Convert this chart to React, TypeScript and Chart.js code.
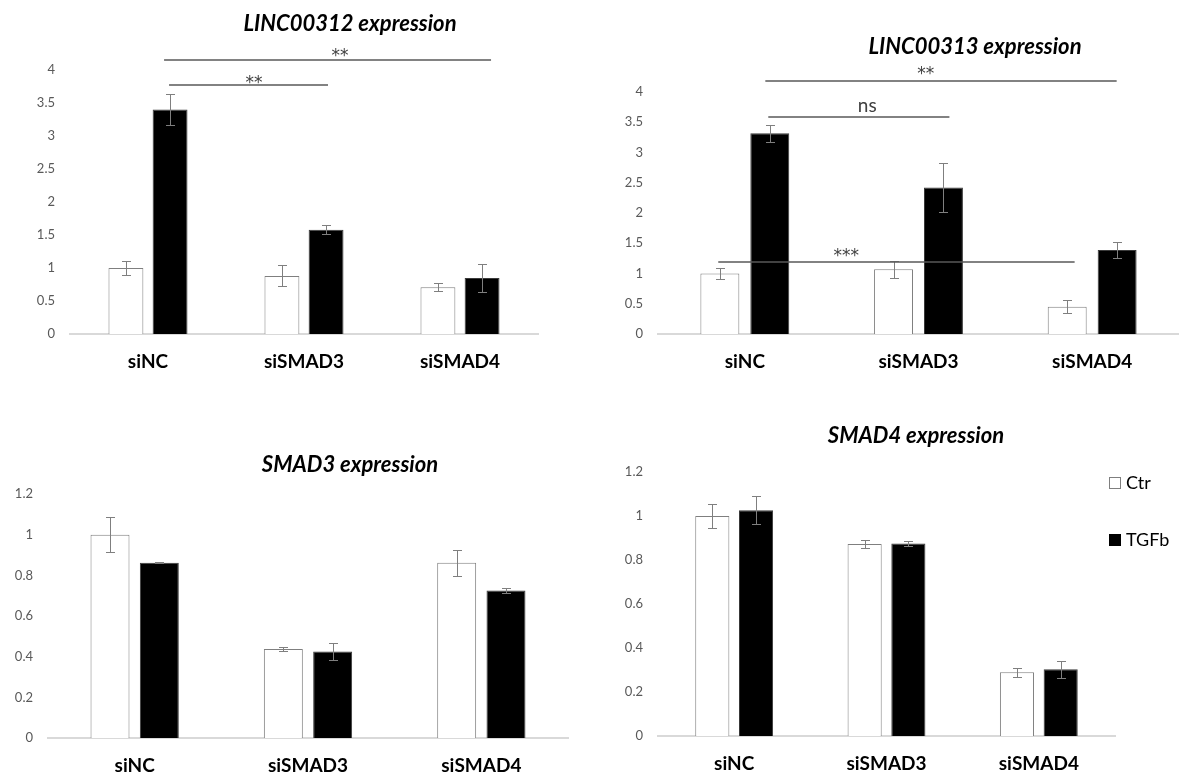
import React, { useEffect, useRef } from 'react';
import { Chart, registerables } from 'chart.js';

Chart.register(...registerables);

// ---------- data ----------
const categories = ['siNC', 'siSMAD3', 'siSMAD4'];
const seriesNames = ['Ctr', 'TGFb'];

const lincTicks = [0, 0.5, 1, 1.5, 2, 2.5, 3, 3.5, 4];
const smadTicks = [0, 0.2, 0.4, 0.6, 0.8, 1, 1.2];

const linc312Ctr = [1.0, 0.88, 0.71];
const linc312CtrErr = [0.1, 0.16, 0.06];
const linc312Tgf = [3.4, 1.58, 0.85];
const linc312TgfErr = [0.23, 0.07, 0.21];

const linc313Ctr = [1.0, 1.07, 0.45];
const linc313CtrErr = [0.09, 0.14, 0.11];
const linc313Tgf = [3.32, 2.42, 1.39];
const linc313TgfErr = [0.14, 0.4, 0.13];

const smad3Ctr = [1.0, 0.438, 0.862];
const smad3CtrErr = [0.085, 0.01, 0.064];
const smad3Tgf = [0.862, 0.426, 0.725];
const smad3TgfErr = [0.003, 0.043, 0.012];

const smad4Ctr = [1.0, 0.873, 0.29];
const smad4CtrErr = [0.056, 0.02, 0.02];
const smad4Tgf = [1.026, 0.875, 0.303];
const smad4TgfErr = [0.063, 0.01, 0.039];

// significance brackets: from/to/labelX in category index units, y/labelY in value units
const sig312 = [
  { from: 0.103, to: 2.199, y: 4.152, label: '**', labelX: 1.231, labelY: 4.29 },
  { from: 0.135, to: 1.154, y: 3.773, label: '**', labelX: 0.679, labelY: 3.883 },
];
const sig313 = [
  { from: 0.118, to: 2.141, y: 4.177, label: '**', labelX: 1.042, labelY: 4.387 },
  { from: 0.135, to: 1.178, y: 3.581, label: 'ns', labelX: 0.705, labelY: 3.763 },
  { from: -0.153, to: 1.899, y: 1.192, label: '***', labelX: 0.584, labelY: 1.374 },
];

// ---------- styling / layout ----------
const FONT = 'Lato, "Open Sans", sans-serif';
const STAR_FONT = '"DejaVu Sans", sans-serif';

type Panel = {
  title: string;
  ctr: number[];
  ctrErr: number[];
  tgf: number[];
  tgfErr: number[];
  ticks: number[];
  max: number;
  sig: { from: number; to: number; y: number; label: string; labelX: number; labelY: number }[];
  left: number;
  top: number;
  w: number;
  h: number;
  yw: number;
  padTop: number;
  padRight: number;
  xh: number;
  titleX: number;
  titleY: number;
  catPct: number;
  barPct: number;
  legend?: { x: number; y: number[] };
};

const panels: Panel[] = [
  {
    title: 'LINC00312 expression', ctr: linc312Ctr, ctrErr: linc312CtrErr, tgf: linc312Tgf, tgfErr: linc312TgfErr,
    ticks: lincTicks, max: 4, sig: sig312,
    left: 0, top: 0, w: 580, h: 390, yw: 70, padTop: 70, padRight: 42, xh: 56, titleX: 350, titleY: 24,
    catPct: 0.566, barPct: 0.79,
  },
  {
    title: 'LINC00313 expression', ctr: linc313Ctr, ctrErr: linc313CtrErr, tgf: linc313Tgf, tgfErr: linc313TgfErr,
    ticks: lincTicks, max: 4, sig: sig313,
    left: 580, top: 0, w: 599, h: 390, yw: 78, padTop: 92, padRight: 0, xh: 56, titleX: 395, titleY: 47,
    catPct: 0.575, barPct: 0.78,
  },
  {
    title: 'SMAD3 expression', ctr: smad3Ctr, ctrErr: smad3CtrErr, tgf: smad3Tgf, tgfErr: smad3TgfErr,
    ticks: smadTicks, max: 1.2, sig: [],
    left: 0, top: 390, w: 580, h: 384, yw: 48, padTop: 104, padRight: 12, xh: 36, titleX: 350, titleY: 75,
    catPct: 0.569, barPct: 0.79,
  },
  {
    title: 'SMAD4 expression', ctr: smad4Ctr, ctrErr: smad4CtrErr, tgf: smad4Tgf, tgfErr: smad4TgfErr,
    ticks: smadTicks, max: 1.2, sig: [],
    left: 580, top: 390, w: 599, h: 384, yw: 78, padTop: 82, padRight: 64, xh: 38, titleX: 336, titleY: 46,
    catPct: 0.574, barPct: 0.78,
    legend: { x: 529, y: [93, 150] },
  },
];

const annotPlugin = {
  id: 'annot',
  afterDraw(chart: any, _args: any, opts: any) {
    const { ctx } = chart;
    const x = chart.scales.x;
    const y = chart.scales.y;
    const p: Panel = opts.panel;
    ctx.save();
    // error bars
    const errs = [p.ctrErr, p.tgfErr];
    errs.forEach((arr, di) => {
      const meta = chart.getDatasetMeta(di);
      meta.data.forEach((bar: any, i: number) => {
        const v = chart.data.datasets[di].data[i] as number;
        const e = arr[i];
        const t = Math.round(y.getPixelForValue(v + e)) + 0.5;
        const b = Math.round(y.getPixelForValue(v - e)) + 0.5;
        const cx = Math.round(bar.x) + 0.5;
        ctx.strokeStyle = '#7f7f7f';
        ctx.lineWidth = 1;
        ctx.beginPath();
        ctx.moveTo(cx, t); ctx.lineTo(cx, b);
        ctx.moveTo(cx - 4.5, t); ctx.lineTo(cx + 4.5, t);
        ctx.moveTo(cx - 4.5, b); ctx.lineTo(cx + 4.5, b);
        ctx.stroke();
      });
    });
    // significance brackets
    p.sig.forEach((s) => {
      const x1 = x.getPixelForValue(s.from);
      const x2 = x.getPixelForValue(s.to);
      const yy = Math.round(y.getPixelForValue(s.y));
      ctx.strokeStyle = '#595959';
      ctx.lineWidth = 1.5;
      ctx.beginPath();
      ctx.moveTo(x1, yy); ctx.lineTo(x2, yy);
      ctx.stroke();
      const isStar = s.label.indexOf('*') >= 0;
      ctx.fillStyle = '#404040';
      ctx.textAlign = 'center';
      const lx = x.getPixelForValue(s.labelX);
      const ly = y.getPixelForValue(s.labelY);
      if (isStar) {
        ctx.font = `17px ${STAR_FONT}`;
        ctx.textBaseline = 'alphabetic';
        ctx.fillText(s.label, lx, ly + 10);
      } else {
        ctx.font = `19px ${FONT}`;
        ctx.textBaseline = 'middle';
        ctx.fillText(s.label, lx, ly);
      }
    });
    // title
    ctx.fillStyle = '#000000';
    ctx.font = `italic bold 22px ${FONT}`;
    ctx.textAlign = 'center';
    ctx.textBaseline = 'middle';
    ctx.fillText(p.title, p.titleX, p.titleY);
    // legend
    if (p.legend) {
      const lg = p.legend;
      seriesNames.forEach((name, i) => {
        const cy = lg.y[i];
        const ds = chart.data.datasets[i];
        ctx.fillStyle = ds.backgroundColor;
        ctx.fillRect(lg.x, cy - 6, 12, 12);
        ctx.strokeStyle = i === 0 ? '#7f7f7f' : '#000000';
        ctx.lineWidth = 1;
        ctx.strokeRect(lg.x + 0.5, cy - 5.5, 11, 11);
        ctx.fillStyle = '#000000';
        ctx.font = `18px ${FONT}`;
        ctx.textAlign = 'left';
        ctx.textBaseline = 'middle';
        ctx.fillText(name, lg.x + 17, cy);
      });
    }
    ctx.restore();
  },
};

function makeConfig(p: Panel): any {
  return {
    type: 'bar',
    data: {
      labels: categories,
      datasets: [
        {
          label: seriesNames[0], data: p.ctr, backgroundColor: '#ffffff', borderColor: '#7f7f7f', borderWidth: 1,
          categoryPercentage: p.catPct, barPercentage: p.barPct,
        },
        {
          label: seriesNames[1], data: p.tgf, backgroundColor: '#000000', borderColor: '#3a3a3a', borderWidth: 1,
          categoryPercentage: p.catPct, barPercentage: p.barPct,
        },
      ],
    },
    options: {
      animation: false,
      responsive: false,
      maintainAspectRatio: false,
      events: [],
      layout: { padding: { top: p.padTop, right: p.padRight, left: 0, bottom: 0 } },
      plugins: {
        legend: { display: false },
        tooltip: { enabled: false },
        title: { display: false },
        annot: { panel: p },
      },
      scales: {
        x: {
          grid: { display: false, drawTicks: false },
          border: { display: true, color: '#d9d9d9', width: 2 },
          ticks: { color: '#000000', font: { family: FONT, size: 19, weight: 'bold' }, padding: 16 },
          afterFit: (s: any) => { s.height = p.xh; },
        },
        y: {
          min: 0,
          max: p.max,
          grid: { display: false, drawTicks: false },
          border: { display: false },
          afterBuildTicks: (s: any) => { s.ticks = p.ticks.map((v) => ({ value: v })); },
          ticks: {
            color: '#595959',
            font: { family: FONT, size: 13 },
            padding: 15,
            callback: (v: any) => String(Number(Number(v).toFixed(2))),
          },
          afterFit: (s: any) => { s.width = p.yw; },
        },
      },
    },
    plugins: [annotPlugin],
  };
}

export default function App() {
  const refs = useRef<(HTMLCanvasElement | null)[]>([]);
  useEffect(() => {
    document.body.style.margin = '0';
    const charts = panels.map((p, i) => new Chart(refs.current[i] as HTMLCanvasElement, makeConfig(p)));
    return () => charts.forEach((c) => c.destroy());
  }, []);
  return (
    <div style={{ position: 'fixed', left: 0, top: 0, width: 1179, height: 774, background: '#ffffff', overflow: 'hidden' }}>
      {panels.map((p, i) => (
        <canvas
          key={i}
          ref={(el) => { refs.current[i] = el; }}
          width={p.w}
          height={p.h}
          style={{ position: 'absolute', left: p.left, top: p.top, width: p.w, height: p.h }}
        />
      ))}
    </div>
  );
}
